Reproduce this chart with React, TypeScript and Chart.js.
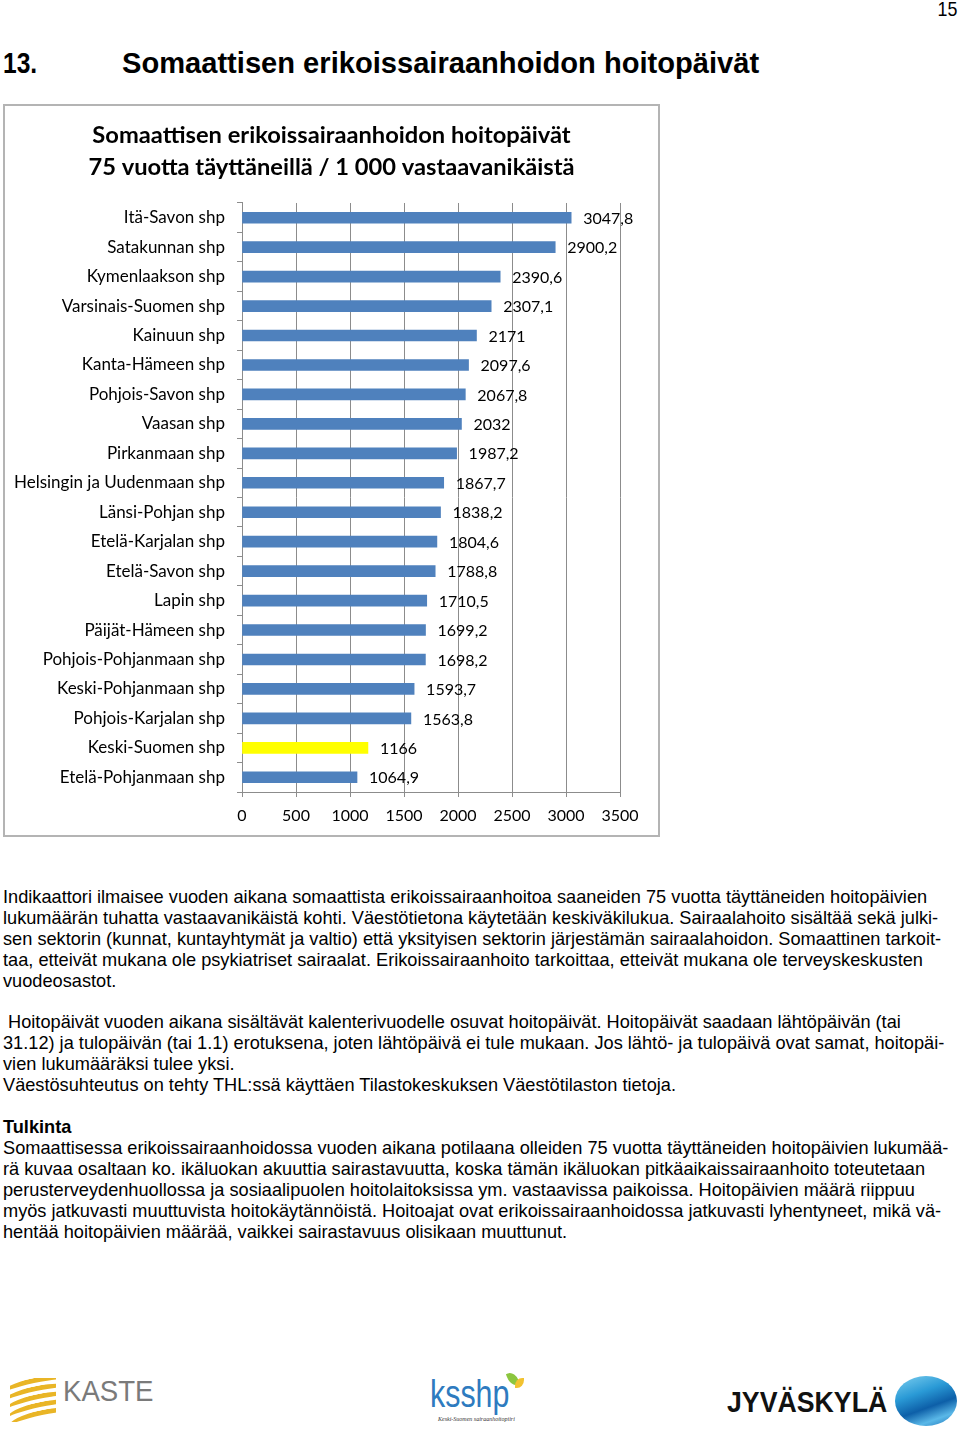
import React, { useEffect, useRef } from "react";
import { Chart, registerables } from "chart.js";

Chart.register(...registerables);

const chartTitle = [
  "Somaattisen erikoissairaanhoidon hoitopäivät",
  "75 vuotta täyttäneillä / 1 000 vastaavanikäistä",
];

const categories = [
  "Itä-Savon shp",
  "Satakunnan shp",
  "Kymenlaakson shp",
  "Varsinais-Suomen shp",
  "Kainuun shp",
  "Kanta-Hämeen shp",
  "Pohjois-Savon shp",
  "Vaasan shp",
  "Pirkanmaan shp",
  "Helsingin ja Uudenmaan shp",
  "Länsi-Pohjan shp",
  "Etelä-Karjalan shp",
  "Etelä-Savon shp",
  "Lapin shp",
  "Päijät-Hämeen shp",
  "Pohjois-Pohjanmaan shp",
  "Keski-Pohjanmaan shp",
  "Pohjois-Karjalan shp",
  "Keski-Suomen shp",
  "Etelä-Pohjanmaan shp",
];

const values = [
  3047.8, 2900.2, 2390.6, 2307.1, 2171, 2097.6, 2067.8, 2032, 1987.2, 1867.7,
  1838.2, 1804.6, 1788.8, 1710.5, 1699.2, 1698.2, 1593.7, 1563.8, 1166, 1064.9,
];

const highlighted = "Keski-Suomen shp";

const xMin = 0;
const xMax = 3500;
const xStep = 500;

const pageHeading = "Somaattisen erikoissairaanhoidon hoitopäivät";
const pageNumber = "15";

const para1 = [
  "Indikaattori ilmaisee vuoden aikana somaattista erikoissairaanhoitoa saaneiden 75 vuotta täyttäneiden hoitopäivien",
  "lukumäärän tuhatta vastaavanikäistä kohti. Väestötietona käytetään keskiväkilukua. Sairaalahoito sisältää sekä julki-",
  "sen sektorin (kunnat, kuntayhtymät ja valtio) että yksityisen sektorin järjestämän sairaalahoidon. Somaattinen tarkoit-",
  "taa, etteivät mukana ole psykiatriset sairaalat. Erikoissairaanhoito tarkoittaa, etteivät mukana ole terveyskeskusten",
  "vuodeosastot.",
];
const para2 = [
  " Hoitopäivät vuoden aikana sisältävät kalenterivuodelle osuvat hoitopäivät. Hoitopäivät saadaan lähtöpäivän (tai",
  "31.12) ja tulopäivän (tai 1.1) erotuksena, joten lähtöpäivä ei tule mukaan. Jos lähtö- ja tulopäivä ovat samat, hoitopäi-",
  "vien lukumääräksi tulee yksi.",
  "Väestösuhteutus on tehty THL:ssä käyttäen Tilastokeskuksen Väestötilaston tietoja.",
];
const para3Title = "Tulkinta";
const para3 = [
  "Somaattisessa erikoissairaanhoidossa vuoden aikana potilaana olleiden 75 vuotta täyttäneiden hoitopäivien lukumää-",
  "rä kuvaa osaltaan ko. ikäluokan akuuttia sairastavuutta, koska tämän ikäluokan pitkäaikaissairaanhoito toteutetaan",
  "perusterveydenhuollossa ja sosiaalipuolen hoitolaitoksissa ym. vastaavissa paikoissa. Hoitopäivien määrä riippuu",
  "myös jatkuvasti muuttuvista hoitokäytännöistä. Hoitoajat ovat erikoissairaanhoidossa jatkuvasti lyhentyneet, mikä vä-",
  "hentää hoitopäivien määrää, vaikkei sairastavuus olisikaan muuttunut.",
];

const FONT = "Lato, 'Open Sans', sans-serif";
const BLUE = "#4F81BD";
const YELLOW = "#FFFF00";
const GRID = "#8c8c8c";

const fmt = (v: number) => String(v).replace(".", ",");

const valueLabels = {
  id: "valueLabels",
  afterDatasetsDraw(chart: any) {
    const ctx = chart.ctx;
    const meta = chart.getDatasetMeta(0);
    ctx.save();
    ctx.font = `16px ${FONT}`;
    ctx.fillStyle = "#000";
    ctx.textAlign = "left";
    ctx.textBaseline = "middle";
    meta.data.forEach((bar: any, i: number) => {
      ctx.fillText(fmt(values[i]), bar.x + 12, bar.y + 1);
    });
    ctx.restore();
  },
};

function BarChart() {
  const ref = useRef<HTMLCanvasElement | null>(null);
  useEffect(() => {
    if (!ref.current) return;
    const chart = new Chart(ref.current, {
      type: "bar",
      data: {
        labels: categories,
        datasets: [
          {
            data: values,
            backgroundColor: categories.map((c) => (c === highlighted ? YELLOW : BLUE)),
            barThickness: 11,
          },
        ],
      },
      options: {
        indexAxis: "y",
        responsive: false,
        animation: false,
        devicePixelRatio: 1,
        layout: { padding: { left: 0, right: 0, top: 0, bottom: 9 } },
        plugins: {
          legend: { display: false },
          tooltip: { enabled: false },
          title: {
            display: true,
            text: chartTitle,
            color: "#000",
            font: { family: FONT, size: 23.7, weight: "bold", lineHeight: 1.35 },
            padding: { top: 13, bottom: 20 },
          },
        },
        scales: {
          x: {
            type: "linear",
            min: xMin,
            max: xMax,
            ticks: {
              stepSize: xStep,
              color: "#000",
              font: { family: FONT, size: 16 },
              padding: 9,
              maxRotation: 0,
              callback: (v: any) => String(v),
            },
            grid: { color: GRID, tickLength: 5, drawOnChartArea: true },
            border: { color: GRID },
            afterFit(s: any) {
              s.height = 34;
            },
          },
          y: {
            ticks: {
              color: "#000",
              font: { family: FONT, size: 17 },
              padding: 12,
              autoSkip: false,
            },
            grid: { drawOnChartArea: false, tickLength: 5, color: GRID, offset: true },
            border: { color: GRID },
            afterFit(s: any) {
              s.width = 237;
            },
          },
          ySpacer: {
            type: "linear",
            axis: "y",
            position: "right",
            display: true,
            ticks: { display: false },
            grid: { display: false, drawTicks: false },
            border: { display: false },
            afterFit(s: any) {
              s.width = 38;
            },
          },
        },
      },
      plugins: [valueLabels],
    } as any);
    return () => chart.destroy();
  }, []);
  return <canvas ref={ref} width={653} height={729} style={{ display: "block" }} />;
}

const textFont = "'Liberation Sans', Arial, sans-serif";
const textSize = 18.2;

function Lines({ lines, top }: { lines: string[]; top: number }) {
  return (
    <div style={{ position: "absolute", left: 3, top, fontFamily: textFont, fontSize: textSize, lineHeight: "20.9px", color: "#000" }}>
      {lines.map((l, i) => (
        <div key={i} style={{ whiteSpace: "pre" }}>{l}</div>
      ))}
    </div>
  );
}

export default function App() {
  return (
    <div style={{ position: "absolute", left: 0, top: 0, width: 960, height: 1429, background: "#fff", overflow: "hidden" }}>
      <div style={{ position: "absolute", right: 3, top: -3, fontFamily: "'Liberation Sans', Arial, sans-serif", fontSize: 21, transform: "scaleX(0.85)", transformOrigin: "right" }}>{pageNumber}</div>
      <div style={{ position: "absolute", left: 3, top: 44, fontFamily: textFont, fontWeight: "bold", fontSize: 30, lineHeight: "38px", whiteSpace: "nowrap", transform: "scaleX(0.82)", transformOrigin: "left" }}>13.</div>
      <div style={{ position: "absolute", left: 122, top: 44, fontFamily: textFont, fontWeight: "bold", fontSize: 30, lineHeight: "38px", whiteSpace: "nowrap", transform: "scaleX(0.97)", transformOrigin: "left" }}>{pageHeading}</div>

      <div style={{ position: "absolute", left: 3, top: 104, width: 653, height: 729, border: "2px solid #b4b4b4" }}>
        <BarChart />
      </div>

      <Lines lines={para1} top={887} />
      <Lines lines={para2} top={1012} />
      <div style={{ position: "absolute", left: 3, top: 1117, fontFamily: textFont, fontSize: textSize, lineHeight: "20.9px", fontWeight: "bold" }}>{para3Title}</div>
      <Lines lines={para3} top={1138} />

      {/* KASTE logo */}
      <div style={{ position: "absolute", left: 10, top: 1378, width: 46, height: 44, overflow: "hidden" }}>
        {[0, 1, 2, 3, 4].map((i) => (
          <div key={i} style={{ position: "absolute", left: -10 + i * 2, top: i * 8, width: 70, height: 14, borderTop: "5px solid #e9b526", borderRadius: "50% 50% 0 0", transform: "rotate(-12deg)" }} />
        ))}
      </div>
      <div style={{ position: "absolute", left: 63, top: 1374, fontFamily: "'Liberation Sans', Arial, sans-serif", fontSize: 30, color: "#7a7a7a", transform: "scaleX(0.92)", transformOrigin: "left" }}>KASTE</div>

      {/* ksshp logo */}
      <div style={{ position: "absolute", left: 430, top: 1374, fontFamily: "'Liberation Sans', Arial, sans-serif", fontSize: 38, color: "#2e7bbf", transform: "scaleX(0.8)", transformOrigin: "left", lineHeight: "40px" }}>ksshp</div>
      <div style={{ position: "absolute", left: 508, top: 1372, width: 10, height: 14, background: "#8cc63f", borderRadius: "0 80% 0 80%", transform: "rotate(-20deg)" }} />
      <div style={{ position: "absolute", left: 515, top: 1378, width: 9, height: 10, background: "#f2c230", borderRadius: "80% 0 80% 0" }} />
      <div style={{ position: "absolute", left: 438, top: 1416, fontFamily: "'Liberation Serif', serif", fontStyle: "italic", fontSize: 6, color: "#333" }}>Keski-Suomen sairaanhoitopiiri</div>

      {/* Jyväskylä logo */}
      <div style={{ position: "absolute", left: 727, top: 1382, fontFamily: "'Liberation Sans', Arial, sans-serif", fontWeight: "bold", fontSize: 30, color: "#111", transform: "scaleX(0.89)", transformOrigin: "left", lineHeight: "40px" }}>JYVÄSKYLÄ</div>
      <div style={{ position: "absolute", left: 895, top: 1376, width: 62, height: 50, borderRadius: "50%", background: "linear-gradient(160deg, #7fd0f0 0%, #2a9ad6 35%, #0d5fa8 60%, #5ab8e8 80%, #1b6fb5 100%)" }} />
    </div>
  );
}
